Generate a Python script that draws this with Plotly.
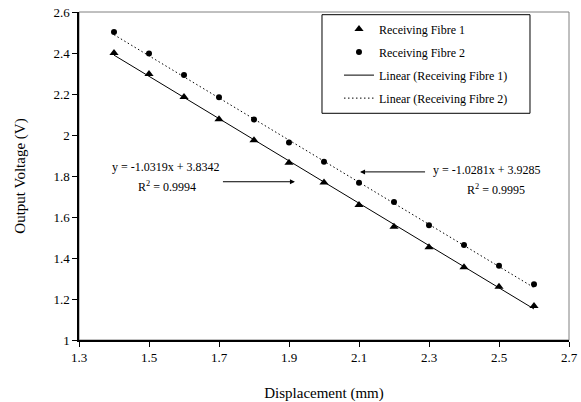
import plotly.graph_objects as go

displacement = [1.4, 1.5, 1.6, 1.7, 1.8, 1.9, 2.0, 2.1, 2.2, 2.3, 2.4, 2.5, 2.6]
fibre1 = [2.400, 2.297, 2.185, 2.077, 1.974, 1.865, 1.768, 1.659, 1.553, 1.452, 1.355, 1.260, 1.166]
fibre2 = [2.502, 2.398, 2.293, 2.184, 2.075, 1.964, 1.870, 1.767, 1.673, 1.560, 1.463, 1.362, 1.272]

fit1 = (-1.0319, 3.8342, 0.9994)
fit2 = (-1.0281, 3.9285, 0.9995)

x_ticks = [1.3, 1.5, 1.7, 1.9, 2.1, 2.3, 2.5, 2.7]
y_ticks = [1, 1.2, 1.4, 1.6, 1.8, 2, 2.2, 2.4, 2.6]

xs_fit = [displacement[0], displacement[-1]]
trend1 = [fit1[0] * x + fit1[1] for x in xs_fit]
trend2 = [fit2[0] * x + fit2[1] for x in xs_fit]

FONT = "Liberation Serif"

fig = go.Figure()
fig.add_trace(go.Scatter(x=displacement, y=fibre1, mode="markers", name="Receiving Fibre 1",
                         legendgroup="a",
                         marker=dict(symbol="triangle-up", size=8, color="black")))
fig.add_trace(go.Scatter(x=displacement, y=fibre2, mode="markers", name="Receiving Fibre 2",
                         legendgroup="b",
                         marker=dict(symbol="circle", size=6, color="black")))
fig.add_trace(go.Scatter(x=xs_fit, y=trend1, mode="lines", name="Linear (Receiving Fibre 1)",
                         legendgroup="c",
                         line=dict(color="black", width=1)))
fig.add_trace(go.Scatter(x=xs_fit, y=trend2, mode="lines", name="Linear (Receiving Fibre 2)",
                         legendgroup="d",
                         line=dict(color="black", width=1, dash="1.5px,2.5px")))

txt = dict(family=FONT, size=12, color="black")
annotations = [
    dict(x=1.549, y=1.845, xref="x", yref="y", showarrow=False, font=txt,
         text=f"y = {fit1[0]:.4f}x + {fit1[1]:.4f}"),
    dict(x=1.551, y=1.748, xref="x", yref="y", showarrow=False, font=txt,
         text=f"R<sup>2</sup> = {fit1[2]:.4f}"),
    dict(x=2.467, y=1.829, xref="x", yref="y", showarrow=False, font=txt,
         text=f"y = {fit2[0]:.4f}x + {fit2[1]:.4f}"),
    dict(x=2.491, y=1.732, xref="x", yref="y", showarrow=False, font=txt,
         text=f"R<sup>2</sup> = {fit2[2]:.4f}"),
    dict(x=1.917, y=1.772, ax=1.707, ay=1.772, xref="x", yref="y", axref="x", ayref="y",
         text="", showarrow=True, arrowhead=2, arrowsize=1, arrowwidth=1, arrowcolor="black"),
    dict(x=2.103, y=1.82, ax=2.293, ay=1.82, xref="x", yref="y", axref="x", ayref="y",
         text="", showarrow=True, arrowhead=2, arrowsize=1, arrowwidth=1, arrowcolor="black"),
]

shapes = [
    # plot-area frame
    dict(type="rect", xref="paper", yref="paper", x0=0, y0=0, x1=1, y1=1,
         line=dict(color="#808080", width=1), layer="below"),
    # legend box
    dict(type="rect", xref="paper", yref="paper", x0=0.4959, y0=0.6912, x1=0.9204, y1=0.9918,
         line=dict(color="black", width=1), fillcolor="white", layer="above"),
]

fig.update_layout(
    width=581, height=402,
    margin=dict(l=79, r=12, t=12, b=62),
    paper_bgcolor="white", plot_bgcolor="white",
    font=dict(family=FONT, size=13, color="black"),
    showlegend=True,
    legend=dict(x=0.5306, y=0.992, xanchor="left", yanchor="top",
                bgcolor="rgba(0,0,0,0)", borderwidth=0,
                font=dict(family=FONT, size=12, color="black"),
                tracegroupgap=4),
    annotations=annotations,
    shapes=shapes,
)
fig.update_xaxes(range=[1.3, 2.7], tickvals=x_ticks, ticktext=[str(v) for v in x_ticks],
                 automargin=False,
                 showgrid=False, zeroline=False, showline=True, linecolor="black", linewidth=1.5,
                 ticks="outside", ticklen=5, tickcolor="black",
                 tickfont=dict(family=FONT, size=13),
                 title=dict(text="Displacement (mm)", font=dict(family=FONT, size=15), standoff=26))
fig.update_yaxes(range=[1, 2.6], tickvals=y_ticks, ticktext=[str(v) for v in y_ticks],
                 automargin=False,
                 showgrid=False, zeroline=False, showline=True, linecolor="black", linewidth=1.5,
                 ticks="outside", ticklen=5, tickcolor="black",
                 tickfont=dict(family=FONT, size=13),
                 title=dict(text="Output Voltage (V)", font=dict(family=FONT, size=15), standoff=24))

fig.write_html("out.html", config={"displayModeBar": False},
               post_script="document.body.style.margin='0';document.body.style.overflow='hidden';")
